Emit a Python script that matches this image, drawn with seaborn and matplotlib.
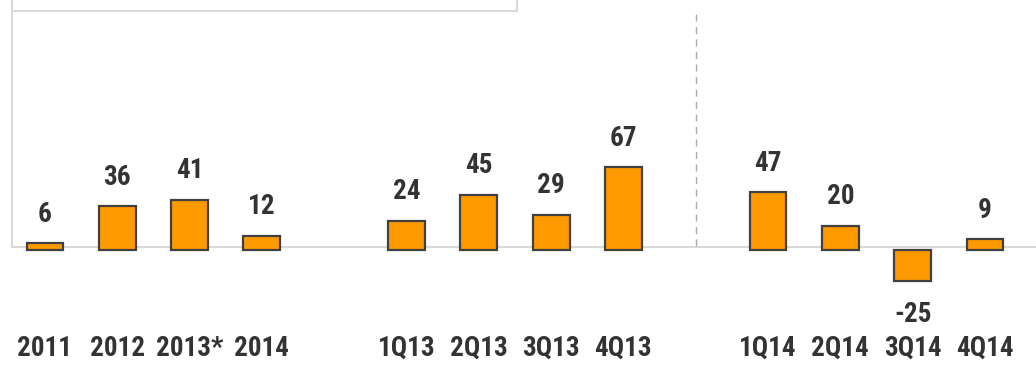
import matplotlib
matplotlib.use("Agg")
import matplotlib.pyplot as plt
from matplotlib import font_manager
from matplotlib.patches import Rectangle
import seaborn as sns
import pandas as pd

# Annual and quarterly figures
years = ["2011", "2012", "2013*", "2014"]
year_values = [6, 36, 41, 12]
quarters_13 = ["1Q13", "2Q13", "3Q13", "4Q13"]
q13_values = [24, 45, 29, 67]
quarters_14 = ["1Q14", "2Q14", "3Q14", "4Q14"]
q14_values = [47, 20, -25, 9]

# Empty slots that separate the three groups on the category axis
gap_a, gap_b = "", " "
order = years + [gap_a] + quarters_13 + [gap_b] + quarters_14

df = pd.DataFrame({
    "period": years + quarters_13 + quarters_14,
    "value": year_values + q13_values + q14_values,
})

sns.set_theme(style="white")
available = {f.name for f in font_manager.fontManager.ttflist}
narrow = [n for n in ("Liberation Sans Narrow", "Roboto Condensed", "Open Sans Condensed",
                      "DejaVu Sans Condensed") if n in available]
if narrow:
    family, fsize = narrow[0], 19.5
else:
    family, fsize = "Liberation Sans", 17.5
plt.rcParams["font.family"] = [family, "DejaVu Sans"]

W, H = 1036, 370
fig = plt.figure(figsize=(W / 100, H / 100), dpi=100)
ax = fig.add_axes([12 / W, (H - 325) / H, (W - 12) / W, 325 / H])

text_color = "#333333"
grid_gray = "#d9d9d9"

sns.barplot(data=df, x="period", y="value", order=order, ax=ax,
            color="#FF9900", saturation=1, width=0.51,
            edgecolor="#404040", linewidth=1.6, errorbar=None)

ax.set_xlim(-0.456, 13.706)
ax.set_ylim(-60.1, 202.0)

# Value labels above positive bars, below negative bars
for container in ax.containers:
    for bar, v in zip(container, container.datavalues):
        x = bar.get_x() + bar.get_width() / 2
        if v >= 0:
            ax.annotate(f"{v:g}", (x, v), xytext=(0, 11), textcoords="offset points",
                        ha="center", va="bottom", fontsize=fsize, fontweight="bold",
                        color=text_color)
        else:
            ax.annotate(f"{v:g}", (x, v), xytext=(0, -14), textcoords="offset points",
                        ha="center", va="top", fontsize=fsize, fontweight="bold",
                        color=text_color)

# Baseline and divider between 2013 and 2014 quarters
base = 2.8
ax.axhline(base, color=grid_gray, lw=1.5, zorder=0)
split = order.index(gap_b)
ax.vlines(split, base + 1, 192, colors="#aaaaaa", linestyles=(0, (5, 4)), lw=1.0, zorder=0)

for side in ["top", "right", "bottom"]:
    ax.spines[side].set_visible(False)
ax.spines["left"].set_color(grid_gray)
ax.spines["left"].set_linewidth(1.5)
ax.spines["left"].set_bounds(base, 202.0)

ax.set_xlabel("")
ax.set_ylabel("")
ax.set_yticks([])
ax.tick_params(axis="x", length=0, pad=7)
for lbl in ax.get_xticklabels():
    lbl.set_fontsize(fsize)
    lbl.set_fontweight("bold")
    lbl.set_color(text_color)

# Title frame running off the top edge
fig.patches.append(Rectangle((12 / W, (H - 11) / H), (517 - 12) / W, 0.2,
                             transform=fig.transFigure, fill=False,
                             edgecolor=grid_gray, lw=1.5))

fig.savefig("out.png", dpi=100, facecolor="white")
